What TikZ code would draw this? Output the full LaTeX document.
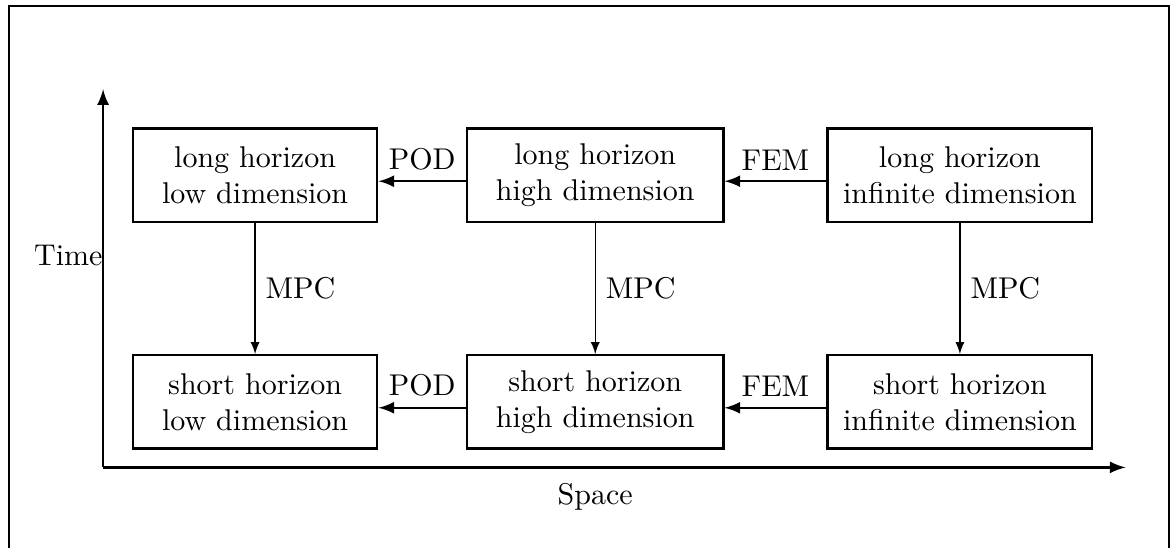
\documentclass[tikz,border=0pt]{standalone}
\usepackage{tikz}

\begin{document}
\begin{tikzpicture}[box/.style={draw, thick, align=center, minimum height=1.09cm}, flow/.style={thick, -latex}]

\useasboundingbox (0,0) rectangle (13.70,6.41);
\draw [thick] (0.105,-0.2) rectangle (13.695,6.338);

\draw[thick, -latex] (1.207,0.937) -- (1.207,5.366);
\draw[thick, -latex] (1.207,0.937) -- (13.18,0.937);
\node (timelabel) at (0.8,3.42) {Time};
\node (spacelabel) at (6.97,0.59) {Space};

\node [box, minimum width=2.86cm] (lowlong) at (2.987,4.358) {long horizon\\low dimension};
\node [box, minimum width=3.0cm] (highlong) at (6.970,4.358) {long horizon\\high dimension};
\node [box, minimum width=3.10cm] (inflong) at (11.24,4.358) {long horizon\\infinite dimension};
\node [box, minimum width=2.86cm] (lowshort) at (2.987,1.705) {short horizon\\low dimension};
\node [box, minimum width=3.0cm] (highshort) at (6.970,1.705) {short horizon\\high dimension};
\node [box, minimum width=3.10cm] (infshort) at (11.24,1.705) {short horizon\\infinite dimension};

\draw[flow] ([yshift=-0.07cm]highlong.west) -- node [above] {POD} ([yshift=-0.07cm]lowlong.east);
\draw[flow] ([yshift=-0.07cm]inflong.west) -- node [above] {FEM} ([yshift=-0.07cm]highlong.east);
\draw[flow] ([yshift=-0.07cm]highshort.west) -- node [above] {POD} ([yshift=-0.07cm]lowshort.east);
\draw[flow] ([yshift=-0.07cm]infshort.west) -- node [above] {FEM} ([yshift=-0.07cm]highshort.east);

\draw[-latex] (lowlong) -- node [right] {MPC} (lowshort);
\draw[-latex] (highlong) -- node [right] {MPC} (highshort);
\draw[-latex] (inflong) -- node [right] {MPC} (infshort);

\end{tikzpicture}
\end{document}
